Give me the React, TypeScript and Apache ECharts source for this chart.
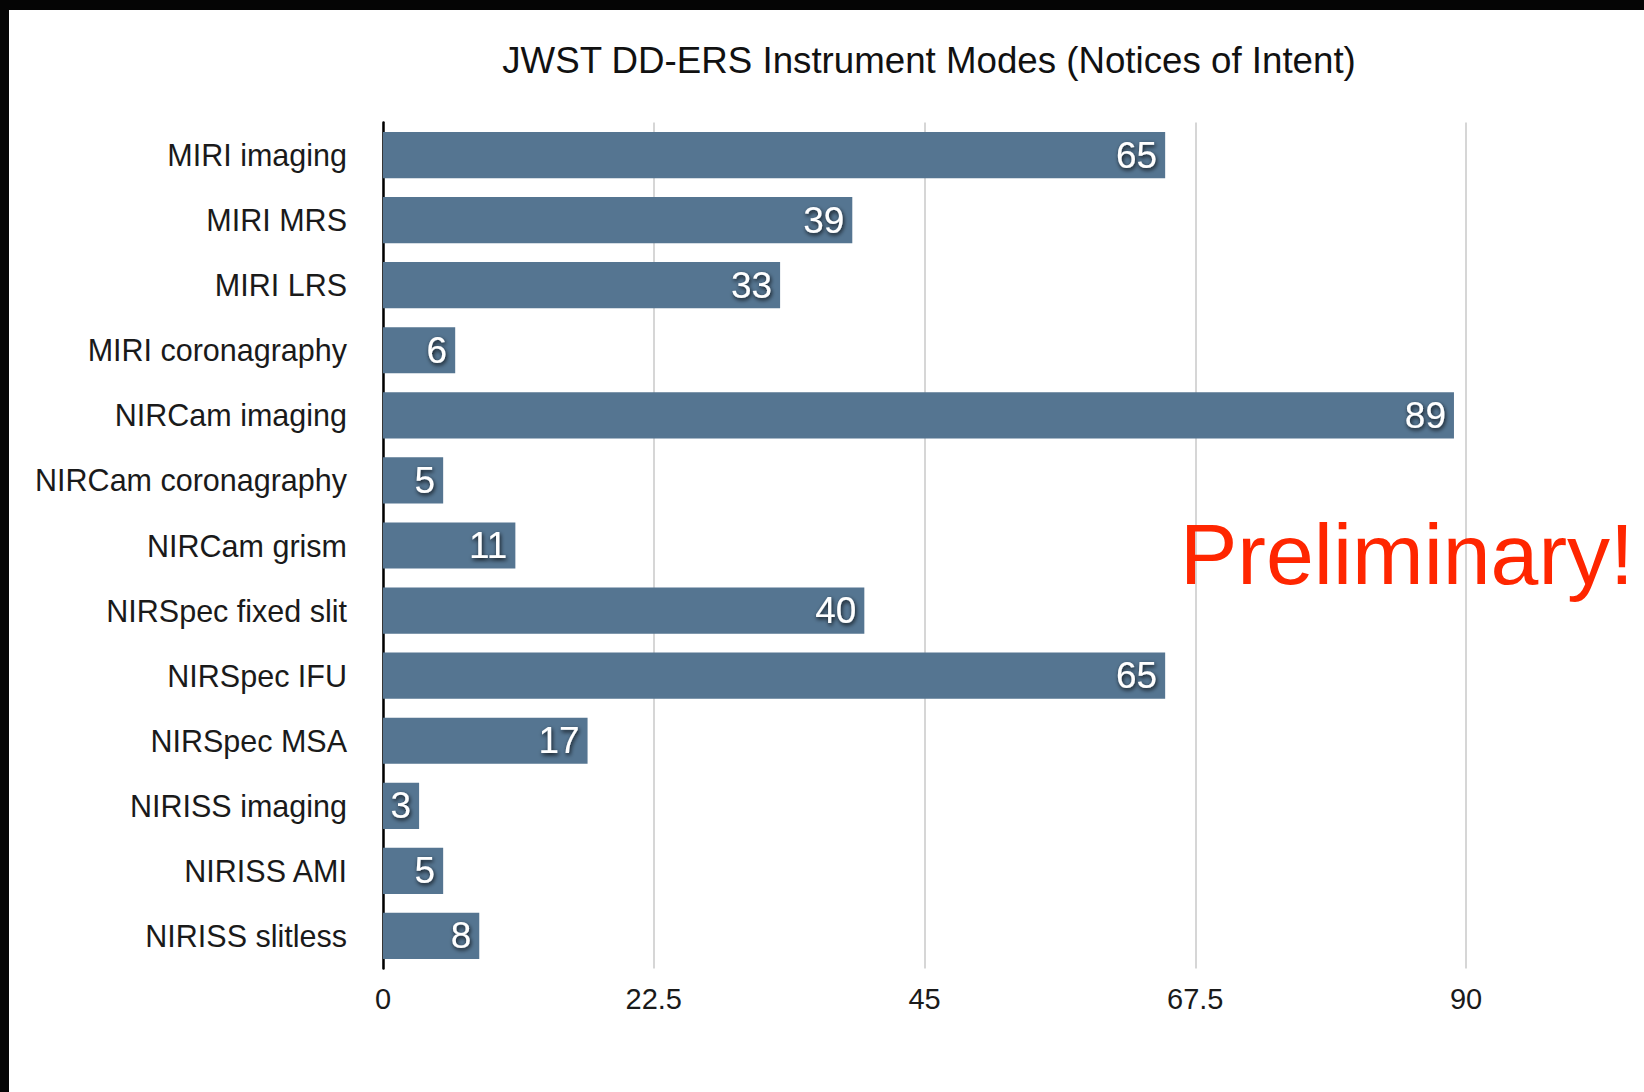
import React, { useEffect, useRef } from "react";
import * as echarts from "echarts";

const categories = [
  "MIRI imaging",
  "MIRI MRS",
  "MIRI LRS",
  "MIRI coronagraphy",
  "NIRCam imaging",
  "NIRCam coronagraphy",
  "NIRCam grism",
  "NIRSpec fixed slit",
  "NIRSpec IFU",
  "NIRSpec MSA",
  "NIRISS imaging",
  "NIRISS AMI",
  "NIRISS slitless",
];
const counts = [65, 39, 33, 6, 89, 5, 11, 40, 65, 17, 3, 5, 8];
const xMin = 0;
const xMax = 90;
const xStep = 22.5;
const titleText = "JWST DD-ERS Instrument Modes (Notices of Intent)";
const stampText = "Preliminary!";

const FONT = "'Liberation Sans', Arial, Helvetica, sans-serif";

export default function App() {
  const ref = useRef<HTMLDivElement>(null);
  useEffect(() => {
    document.body.style.margin = "0";
    const chart = echarts.init(ref.current!, undefined, { renderer: "svg" });
    chart.setOption({
      animation: false,
      backgroundColor: "#ffffff",
      textStyle: { fontFamily: FONT },
      title: {
        text: titleText,
        left: 924,
        top: 37,
        textAlign: "center",
        textStyle: { fontSize: 36.7, fontWeight: "normal", color: "#111", fontFamily: FONT },
      },
      grid: { left: 383, right: 178, top: 122.5, bottom: 123.5, containLabel: false },
      xAxis: {
        type: "value",
        min: xMin,
        max: xMax,
        interval: xStep,
        axisLine: { show: false },
        axisTick: { show: false },
        splitLine: { show: true, lineStyle: { color: "#c9c9c9", width: 1.5 } },
        axisLabel: { fontSize: 29, color: "#1a1a1a", margin: 16, fontFamily: FONT },
      },
      yAxis: {
        type: "category",
        inverse: true,
        data: categories,
        axisLine: { show: true, lineStyle: { color: "#000", width: 2.5 } },
        axisTick: { show: false },
        splitLine: { show: false },
        axisLabel: {
          fontSize: 30.5,
          color: "#1a1a1a",
          margin: 36,
          fontFamily: FONT,
          padding: [0, 0, 6, 0],
        },
      },
      series: [
        {
          type: "bar",
          data: counts,
          barCategoryGap: "29%",
          itemStyle: { color: "#557591" },
          label: {
            show: true,
            position: "insideRight",
            distance: 8,
            color: "#ffffff",
            fontSize: 37,
            fontFamily: FONT,
            textShadowColor: "rgba(0,0,0,0.85)",
            textShadowBlur: 4,
            textShadowOffsetX: 1,
            textShadowOffsetY: 2,
          },
        },
      ],
      graphic: [
        { type: "rect", shape: { x: 0, y: 0, width: 1644, height: 10 }, style: { fill: "#050505" }, z: 100 },
        { type: "rect", shape: { x: 0, y: 0, width: 9, height: 1092 }, style: { fill: "#050505" }, z: 100 },
        {
          type: "text",
          x: 1180,
          y: 554,
          z: 100,
          style: {
            text: stampText,
            fill: "#ff2600",
            fontSize: 86,
            fontFamily: FONT,
            verticalAlign: "middle",
            align: "left",
          },
        },
      ],
    });
    return () => chart.dispose();
  }, []);
  return <div ref={ref} style={{ width: 1644, height: 1092 }} />;
}
